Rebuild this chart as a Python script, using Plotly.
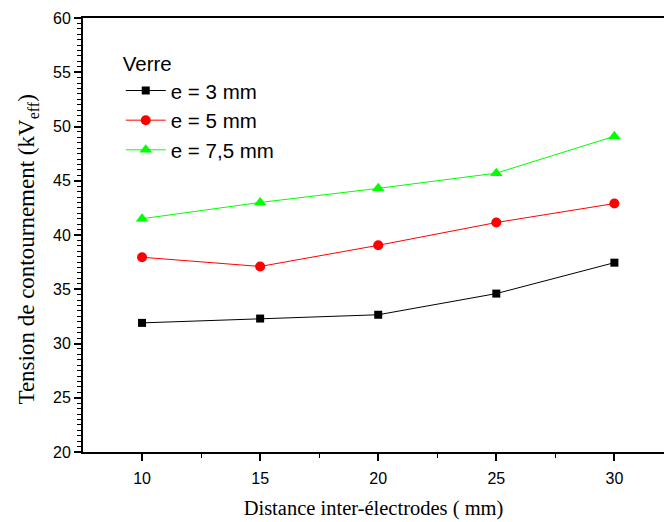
import plotly.graph_objects as go

# Distance inter-électrodes (mm)
distance = [10, 15, 20, 25, 30]

# Tension de contournement (kV eff) pour chaque épaisseur de verre
tension_3mm = [31.9, 32.3, 32.65, 34.6, 37.45]
tension_5mm = [37.95, 37.1, 39.05, 41.15, 42.9]
tension_7_5mm = [41.5, 43.0, 44.3, 45.7, 49.1]

series_names = ["e = 3 mm", "e = 5 mm", "e = 7,5 mm"]

fig = go.Figure()

fig.add_trace(go.Scatter(
    x=distance, y=tension_3mm, name=series_names[0], mode="lines+markers",
    line=dict(color="black", width=1),
    marker=dict(symbol="square", size=8, color="black"),
))
fig.add_trace(go.Scatter(
    x=distance, y=tension_5mm, name=series_names[1], mode="lines+markers",
    line=dict(color="#ff0000", width=1),
    marker=dict(symbol="circle", size=10, color="#ff0000"),
))
fig.add_trace(go.Scatter(
    x=distance, y=tension_7_5mm, name=series_names[2], mode="lines+markers",
    line=dict(color="#00ff00", width=1),
    marker=dict(symbol="triangle-up", size=11, color="#00ff00"),
))

fig.update_layout(
    width=664, height=522,
    margin=dict(l=83, r=0, t=18, b=70),
    paper_bgcolor="white", plot_bgcolor="white",
    font=dict(family="Liberation Sans, Arial", color="black"),
    showlegend=True,
    legend=dict(
        x=0.065, y=0.94, xanchor="left", yanchor="top",
        bgcolor="rgba(0,0,0,0)",
        title=dict(text="Verre", font=dict(size=20.5, family="Liberation Sans, Arial")),
        font=dict(size=20.5, family="Liberation Sans, Arial"),
        tracegroupgap=0, itemwidth=40,
    ),
    # Y-axis title placed as a rotated annotation
    annotations=[dict(
        text="Tension de contournement (kV<sub>eff</sub>)",
        textangle=-90, xref="paper", yref="paper",
        x=-0.095, y=0.466, xanchor="center", yanchor="middle",
        showarrow=False,
        font=dict(size=23, family="Liberation Serif, Times New Roman", color="black"),
    )],
)

fig.update_xaxes(
    range=[7.5, 32.1], tickvals=[10, 15, 20, 25, 30],
    showgrid=False, zeroline=False,
    showline=True, linecolor="black", linewidth=2, mirror=True,
    ticks="outside", ticklen=7, tickwidth=1.5, tickcolor="black",
    minor=dict(tickvals=[12.5, 17.5, 22.5, 27.5], ticks="outside", ticklen=4, tickcolor="black", tickwidth=1),
    tickfont=dict(size=16, family="Liberation Sans, Arial"),
    ticklabelstandoff=4,
    title=dict(text="Distance inter-électrodes ( mm)", font=dict(size=20.5, family="Liberation Serif, Times New Roman"), standoff=14),
)

fig.update_yaxes(
    range=[20, 60], dtick=5,
    showgrid=False, zeroline=False,
    showline=True, linecolor="black", linewidth=2,
    ticks="outside", ticklen=7, tickwidth=1.5, tickcolor="black",
    minor=dict(dtick=0.5, ticks="outside", ticklen=4, tickcolor="black", tickwidth=1),
    tickfont=dict(size=16, family="Liberation Sans, Arial"),
)

fig.write_html("out.html")
